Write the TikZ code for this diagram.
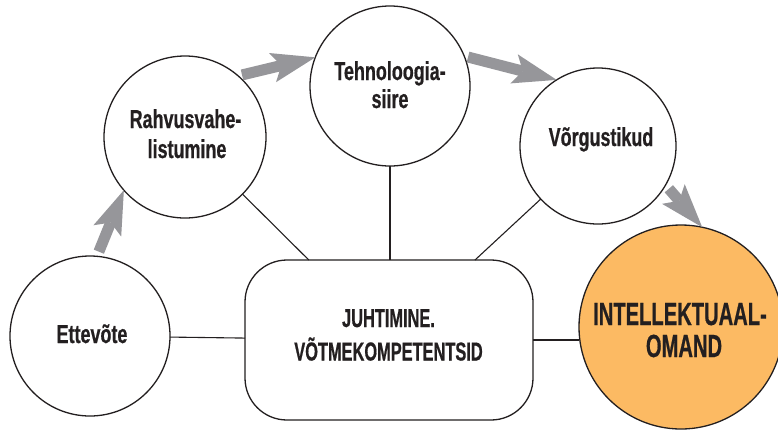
\documentclass[tikz,border=0pt]{standalone}
\usepackage{fontspec}
\setmainfont{Liberation Sans}
\newfontfamily\circfont[FakeStretch=0.69,FakeBold=0.6]{Liberation Sans}
\newfontfamily\capfont[FakeStretch=0.63,FakeBold=0.6]{Liberation Sans}
\usetikzlibrary{arrows.meta}
\definecolor{ipfill}{RGB}{252,186,99}
\definecolor{arrowgray}{RGB}{150,150,154}
\definecolor{ink}{RGB}{35,31,32}
\begin{document}
\begin{tikzpicture}[x=1pt,y=-1pt,
  circ/.style={circle, draw=ink, line width=1.3pt, fill=white, inner sep=0pt, outer sep=0pt},
  link/.style={draw=ink, line width=1.1pt},
  fatarrow/.style={draw=arrowgray, line width=11pt, line cap=butt,
    -{Stealth[length=44pt,width=30pt,inset=9pt,line width=0pt,fill=arrowgray]}},
  ctext/.style={anchor=base, text=ink, inner sep=0pt, font=\circfont\bfseries\fontsize{26}{30}\selectfont},
  mtext/.style={anchor=base, text=ink, inner sep=0pt, font=\capfont\bfseries\fontsize{26}{32}\selectfont},
  itext/.style={anchor=base, text=ink, inner sep=0pt, font=\capfont\bfseries\fontsize{32}{32}\selectfont}
]
\useasboundingbox (0,0) rectangle (778,432);
\clip (0,0) rectangle (778,432);
\fill[white] (0,0) rectangle (778,432);

% circles and box
\node[circ, minimum size=160pt] (ett) at (90,336) {};
\node[circ, minimum size=162pt] (rah) at (185,137) {};
\node[circ, minimum size=160pt] (tech) at (390,86) {};
\node[circ, minimum size=156pt] (vorg) at (598,146) {};
\node[circ, fill=ipfill, minimum size=204pt] (ip) at (681,327) {};
\node[draw=ink, line width=1.3pt, fill=white, rounded corners=42pt, inner sep=0pt, outer sep=0pt,
      minimum width=288pt, minimum height=160pt] (mgmt) at (389,340) {};

% connectors
\draw[link] (rah) -- (mgmt);
\draw[link] (tech) -- (tech |- mgmt.north);
\draw[link] (vorg) -- (mgmt);
\draw[link] (ett) -- (mgmt);
\draw[link] (mgmt.east) -- (ip.west |- mgmt.east);

% arrows
\draw[fatarrow, shorten <=5pt] (ett.85) -- (rah.221);
\draw[fatarrow, shorten <=4pt] (rah.49) -- (tech.159);
\draw[fatarrow, shorten <=4pt] (tech.22) -- (vorg.122);
\draw[fatarrow, shorten <=5pt] (vorg.-30) -- (ip.78);

% texts
\node[ctext] (rahA) at (185.5,128) {Rahvusvahe-};
\node[ctext] (rahB) at (187,158) {listumine};
\node[ctext] (techA) at (390,80) {Tehnoloogia-};
\node[ctext] (techB) at (390,108) {siire};
\node[ctext] (vorgT) at (601,146) {Võrgustikud};
\node[ctext] (ettT) at (92,343) {Ettevõte};
\node[mtext] (mgmtA) at (388.5,327) {JUHTIMINE.};
\node[mtext] (mgmtB) at (388.5,360.5) {VÕTMEKOMPETENTSID};
\node[itext] (ipA) at (680,325) {INTELLEKTUAAL-};
\node[itext] (ipB) at (684,357) {OMAND};
\end{tikzpicture}
\end{document}
